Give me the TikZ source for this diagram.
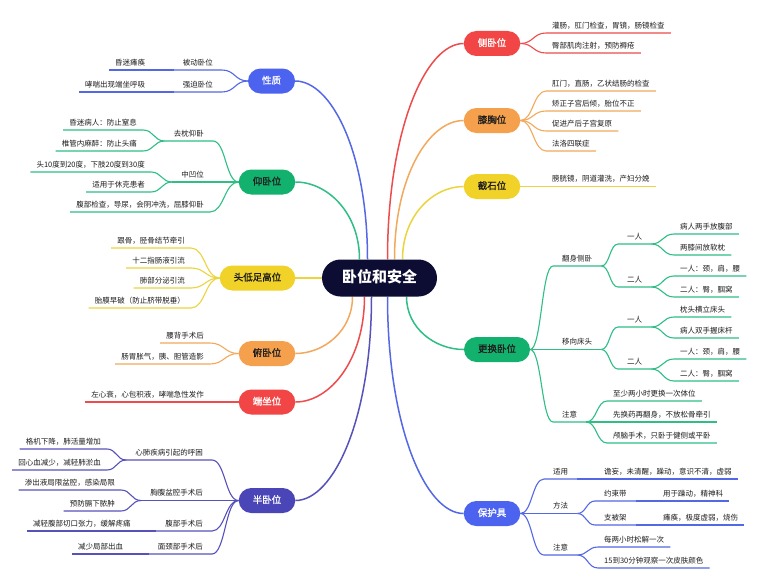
\documentclass[tikz,border=0pt]{standalone}
\usepackage{fontspec}
\setmainfont{Noto Sans CJK SC}
\newfontfamily\tpfont[FakeBold=1.2]{Noto Sans CJK SC}
\usetikzlibrary{calc}
\pgfdeclarelayer{bg}\pgfsetlayers{bg,main}
\definecolor{cblue}{HTML}{4C63F0}
\definecolor{lblue}{HTML}{5468E6}
\definecolor{cgreen}{HTML}{12B26E}
\definecolor{lgreen}{HTML}{2EBE86}
\definecolor{cyel}{HTML}{F0D228}
\definecolor{lyel}{HTML}{EBD43E}
\definecolor{cora}{HTML}{F5A04C}
\definecolor{lora}{HTML}{F2A95C}
\definecolor{cred}{HTML}{F24646}
\definecolor{lred}{HTML}{EE4C4C}
\definecolor{cind}{HTML}{4B46B8}
\definecolor{lind}{HTML}{5752BA}
\definecolor{croot}{HTML}{0D0D33}
\definecolor{txt}{HTML}{1E1E1E}
\newcommand\mmcn[3]{\draw (#1) .. controls ($(#1)!0.5!(#1 -| #2)$) and ($(#2)!0.5!(#2 -| #1)$) .. (#2) -- (#3);}
\newcommand\mmrt[2]{\draw (#1) .. controls ($(#1)!0.6!(#1 |- #2)$) and ($(#2)!0.5!(#2 -| #1)$) .. (#2);}
\tikzset{
  lf/.style={font=\fontsize{7.5}{9}\selectfont, text=txt, inner xsep=6pt, inner ysep=3.5pt, text height=6.5pt, text depth=1pt},
  md/.style={lf, inner xsep=9pt},
  topic/.style={rounded corners=12.5pt, minimum height=25pt, inner xsep=14pt, inner ysep=0pt, font=\tpfont\fontsize{9.5}{11}\selectfont, text=txt, text height=7pt, text depth=1.5pt},
  rootnode/.style={rounded corners=18.5pt, minimum height=37pt, minimum width=115pt, fill=croot, text=white, font=\fontsize{15}{18}\selectfont\bfseries, text height=11pt, text depth=2pt},
  mainln/.style={line width=1.5pt},
  subln/.style={line width=1.1pt}
}
\begin{document}
\begin{tikzpicture}[x=1pt,y=-1pt]
\useasboundingbox (0,0) rectangle (762,586);

% root
\node[rootnode] (root) at (379.5,278) {卧位和安全};

% topics
\node[topic, fill=cblue, text=white] (xz) at (271.5,81) {性质};
\node[topic, fill=cgreen] (yw) at (267,182) {仰卧位};
\node[topic, fill=cyel] (tdz) at (257.5,278) {头低足高位};
\node[topic, fill=cora] (fw) at (267,353.5) {俯卧位};
\node[topic, fill=cred, text=white] (dz) at (267,402) {端坐位};
\node[topic, fill=cind, text=white] (bw) at (267,500.5) {半卧位};
\node[topic, fill=cred, text=white] (cw) at (492,43.5) {侧卧位};
\node[topic, fill=cora] (xx) at (492,120.5) {膝胸位};
\node[topic, fill=cyel] (js) at (492,186.5) {截石位};
\node[topic, fill=cgreen] (gh) at (497,349.5) {更换卧位};
\node[topic, fill=cblue, text=white] (bh) at (492,513.5) {保护具};

\coordinate (r1) at ($(root.north)+(-20,0)$);
\coordinate (r2) at ($(root.north)+(-12,0)$);
\coordinate (r3) at ($(root.north)+(8,0)$);
\coordinate (r4) at ($(root.north)+(15,0)$);
\coordinate (r5) at ($(root.north)+(23,0)$);
\coordinate (r6) at ($(root.south)+(-27,0)$);
\coordinate (r7) at ($(root.south)+(-15,0)$);
\coordinate (r8) at ($(root.south)+(-8,0)$);
\coordinate (r9) at ($(root.south)+(8,0)$);
\coordinate (r10) at ($(root.south)+(27,0)$);

% ---- left labels
\node[md, anchor=south east] (bd) at (222,70) {被动卧位};
\node[lf, anchor=south west] (bd1) at (109,70) {昏迷瘫痪};
\node[md, anchor=south east] (qp) at (222,92) {强迫卧位};
\node[lf, anchor=south west] (qp1) at (79,92) {哮喘出现端坐呼吸};

\node[md, anchor=south east] (qz) at (213,141) {去枕仰卧};
\node[lf, anchor=south east] (qz1) at (143,130) {昏迷病人：防止窒息};
\node[lf, anchor=south east] (qz2) at (143,151) {椎管内麻醉：防止头痛};
\node[md, anchor=south east] (za) at (213,182) {中凹位};
\node[lf, anchor=south east] (za1) at (151,172) {头10度到20度，下肢20度到30度};
\node[lf, anchor=south east] (za2) at (151,192) {适用于休克患者};
\node[lf, anchor=south east] (yw3) at (210,212) {腹部检查，导尿，会阴冲洗，屈膝仰卧};

\node[lf, anchor=south east] (td1) at (191,248) {跟骨，胫骨结节牵引};
\node[lf, anchor=south east] (td2) at (191,268) {十二指肠液引流};
\node[lf, anchor=south east] (td3) at (191,288) {肺部分泌引流};
\node[lf, anchor=south east] (td4) at (191,308) {胎膜早破（防止脐带脱垂）};

\node[lf, anchor=south east] (fw1) at (210,343) {腰背手术后};
\node[lf, anchor=south east] (fw2) at (210,364) {肠胃胀气，胰、胆管造影};

\node[lf, anchor=south east] (dz1) at (210,402) {左心衰，心包积液，哮喘急性发作};

\node[md, anchor=south east] (xf) at (212,460) {心肺疾病引起的呼困};
\node[lf, anchor=south east] (xf1) at (107,449) {格机下降，肺活量增加};
\node[lf, anchor=south east] (xf2) at (107,470) {回心血减少，减轻肺淤血};
\node[md, anchor=south east] (xp) at (212,500.5) {胸腹盆腔手术后};
\node[lf, anchor=south east] (xp1) at (121,490) {渗出液局限盆腔，感染局限};
\node[lf, anchor=south east] (xp2) at (121,511) {预防膈下脓肿};
\node[md, anchor=south east] (fb) at (212,531) {腹部手术后};
\node[lf, anchor=south west] (fb1) at (27,531) {减轻腹部切口张力，缓解疼痛};
\node[md, anchor=south east] (mj) at (212,554) {面颈部手术后};
\node[lf, anchor=south west] (mj1) at (72,554) {减少局部出血};

% ---- right labels
\node[lf, anchor=south west] (cw1) at (546,33) {灌肠，肛门检查，胃镜，肠镜检查};
\node[lf, anchor=south west] (cw2) at (546,53) {臀部肌肉注射，预防褥疮};

\node[lf, anchor=south west] (xx1) at (546,91) {肛门，直肠，乙状结肠的检查};
\node[lf, anchor=south west] (xx2) at (546,111) {矫正子宫后倾，胎位不正};
\node[lf, anchor=south west] (xx3) at (546,131) {促进产后子宫复原};
\node[lf, anchor=south west] (xx4) at (546,151) {法洛四联症};

\node[lf, anchor=south west] (js1) at (546,186.5) {膀胱镜，阴道灌洗，产妇分娩};

\node[md, anchor=south west] (fs) at (553,266) {翻身侧卧};
\node[md, anchor=south west] (fsa) at (618,244) {一人};
\node[lf, anchor=south west] (fsa1) at (674,234) {病人两手放腹部};
\node[lf, anchor=south west] (fsa2) at (674,255) {两膝间放软枕};
\node[md, anchor=south west] (fsb) at (618,287) {二人};
\node[lf, anchor=south west] (fsb1) at (674,276) {一人：颈，肩，腰};
\node[lf, anchor=south west] (fsb2) at (674,297) {二人：臀，腘窝};
\node[md, anchor=south west] (yx) at (553,349.5) {移向床头};
\node[md, anchor=south west] (yxa) at (618,327) {一人};
\node[lf, anchor=south west] (yxa1) at (674,317) {枕头横立床头};
\node[lf, anchor=south west] (yxa2) at (674,338) {病人双手握床杆};
\node[md, anchor=south west] (yxb) at (618,369) {二人};
\node[lf, anchor=south west] (yxb1) at (674,359) {一人：颈，肩，腰};
\node[lf, anchor=south west] (yxb2) at (674,381) {二人：臀，腘窝};
\node[md, anchor=south west] (zy) at (553,422) {注意};
\node[lf, anchor=south west] (zy1) at (607,401) {至少两小时更换一次体位};
\node[lf, anchor=south west] (zy2) at (607,422) {先换药再翻身，不放松骨牵引};
\node[lf, anchor=south west] (zy3) at (607,443) {颅脑手术，只卧于健侧或平卧};

\node[md, anchor=south west] (sy) at (544,479) {适用};
\node[lf, anchor=south west] (sy1) at (598,479) {谵妄，未清醒，躁动，意识不清，虚弱};
\node[md, anchor=south west] (ff) at (544,513.5) {方法};
\node[md, anchor=south west] (ysd) at (595,501) {约束带};
\node[lf, anchor=south west] (ysd1) at (657,501) {用于躁动，精神科};
\node[md, anchor=south west] (zbj) at (595,525) {支被架};
\node[lf, anchor=south west] (zbj1) at (657,525) {瘫痪，极度虚弱，烧伤};
\node[md, anchor=south west] (bzy) at (544,555) {注意};
\node[lf, anchor=south west] (bzy1) at (598,547) {每两小时松解一次};
\node[lf, anchor=south west] (bzy2) at (598,568) {15到30分钟观察一次皮肤颜色};

\begin{pgfonlayer}{bg}
\fill[white] (0,0) rectangle (762,586);
% root connectors
\begin{scope}[mainln]
\begin{scope}[draw=lgreen] \mmrt{r1}{yw.east} \mmrt{r10}{gh.west} \end{scope}
\begin{scope}[draw=lblue] \mmrt{r2}{xz.east} \mmrt{r9}{bh.west} \end{scope}
\begin{scope}[draw=lred] \mmrt{r3}{cw.west} \mmrt{r7}{dz.east} \end{scope}
\begin{scope}[draw=lora] \mmrt{r4}{xx.west} \mmrt{r6}{fw.east} \end{scope}
\begin{scope}[draw=lyel] \mmrt{r5}{js.west} \draw (root.west) -- (tdz.east); \end{scope}
\begin{scope}[draw=lind] \mmrt{r8}{bw.east} \end{scope}
\end{scope}

\begin{scope}[subln]
% 性质
\begin{scope}[draw=lblue]
\mmcn{xz.west}{bd.south east}{bd.south west}
\mmcn{bd.south west}{bd1.south east}{bd1.south west}
\mmcn{xz.west}{qp.south east}{qp.south west}
\mmcn{qp.south west}{qp1.south east}{qp1.south west}
\end{scope}
% 仰卧位
\begin{scope}[draw=lgreen]
\mmcn{yw.west}{qz.south east}{qz.south west}
\mmcn{qz.south west}{qz1.south east}{qz1.south west}
\mmcn{qz.south west}{qz2.south east}{qz2.south west}
\mmcn{yw.west}{za.south east}{za.south west}
\mmcn{za.south west}{za1.south east}{za1.south west}
\mmcn{za.south west}{za2.south east}{za2.south west}
\mmcn{yw.west}{yw3.south east}{yw3.south west}
\end{scope}
% 头低足高位
\begin{scope}[draw=lyel]
\mmcn{tdz.west}{td1.south east}{td1.south west}
\mmcn{tdz.west}{td2.south east}{td2.south west}
\mmcn{tdz.west}{td3.south east}{td3.south west}
\mmcn{tdz.west}{td4.south east}{td4.south west}
\end{scope}
% 俯卧位
\begin{scope}[draw=lora]
\mmcn{fw.west}{fw1.south east}{fw1.south west}
\mmcn{fw.west}{fw2.south east}{fw2.south west}
\end{scope}
% 端坐位
\begin{scope}[draw=lred]
\mmcn{dz.west}{dz1.south east}{dz1.south west}
\end{scope}
% 半卧位
\begin{scope}[draw=lind]
\mmcn{bw.west}{xf.south east}{xf.south west}
\mmcn{xf.south west}{xf1.south east}{xf1.south west}
\mmcn{xf.south west}{xf2.south east}{xf2.south west}
\mmcn{bw.west}{xp.south east}{xp.south west}
\mmcn{xp.south west}{xp1.south east}{xp1.south west}
\mmcn{xp.south west}{xp2.south east}{xp2.south west}
\mmcn{bw.west}{fb.south east}{fb.south west}
\mmcn{fb.south west}{fb1.south east}{fb1.south west}
\mmcn{bw.west}{mj.south east}{mj.south west}
\mmcn{mj.south west}{mj1.south east}{mj1.south west}
\end{scope}
% 侧卧位
\begin{scope}[draw=lred]
\mmcn{cw.east}{cw1.south west}{cw1.south east}
\mmcn{cw.east}{cw2.south west}{cw2.south east}
\end{scope}
% 膝胸位
\begin{scope}[draw=lora]
\mmcn{xx.east}{xx1.south west}{xx1.south east}
\mmcn{xx.east}{xx2.south west}{xx2.south east}
\mmcn{xx.east}{xx3.south west}{xx3.south east}
\mmcn{xx.east}{xx4.south west}{xx4.south east}
\end{scope}
% 截石位
\begin{scope}[draw=lyel]
\mmcn{js.east}{js1.south west}{js1.south east}
\end{scope}
% 更换卧位
\begin{scope}[draw=lgreen]
\mmcn{gh.east}{fs.south west}{fs.south east}
\mmcn{fs.south east}{fsa.south west}{fsa.south east}
\mmcn{fsa.south east}{fsa1.south west}{fsa1.south east}
\mmcn{fsa.south east}{fsa2.south west}{fsa2.south east}
\mmcn{fs.south east}{fsb.south west}{fsb.south east}
\mmcn{fsb.south east}{fsb1.south west}{fsb1.south east}
\mmcn{fsb.south east}{fsb2.south west}{fsb2.south east}
\mmcn{gh.east}{yx.south west}{yx.south east}
\mmcn{yx.south east}{yxa.south west}{yxa.south east}
\mmcn{yxa.south east}{yxa1.south west}{yxa1.south east}
\mmcn{yxa.south east}{yxa2.south west}{yxa2.south east}
\mmcn{yx.south east}{yxb.south west}{yxb.south east}
\mmcn{yxb.south east}{yxb1.south west}{yxb1.south east}
\mmcn{yxb.south east}{yxb2.south west}{yxb2.south east}
\mmcn{gh.east}{zy.south west}{zy.south east}
\mmcn{zy.south east}{zy1.south west}{zy1.south east}
\mmcn{zy.south east}{zy2.south west}{zy2.south east}
\mmcn{zy.south east}{zy3.south west}{zy3.south east}
\end{scope}
% 保护具
\begin{scope}[draw=lblue]
\mmcn{bh.east}{sy.south west}{sy.south east}
\mmcn{sy.south east}{sy1.south west}{sy1.south east}
\mmcn{bh.east}{ff.south west}{ff.south east}
\mmcn{ff.south east}{ysd.south west}{ysd.south east}
\mmcn{ysd.south east}{ysd1.south west}{ysd1.south east}
\mmcn{ff.south east}{zbj.south west}{zbj.south east}
\mmcn{zbj.south east}{zbj1.south west}{zbj1.south east}
\mmcn{bh.east}{bzy.south west}{bzy.south east}
\mmcn{bzy.south east}{bzy1.south west}{bzy1.south east}
\mmcn{bzy.south east}{bzy2.south west}{bzy2.south east}
\end{scope}
\end{scope}
\end{pgfonlayer}
\end{tikzpicture}
\end{document}
